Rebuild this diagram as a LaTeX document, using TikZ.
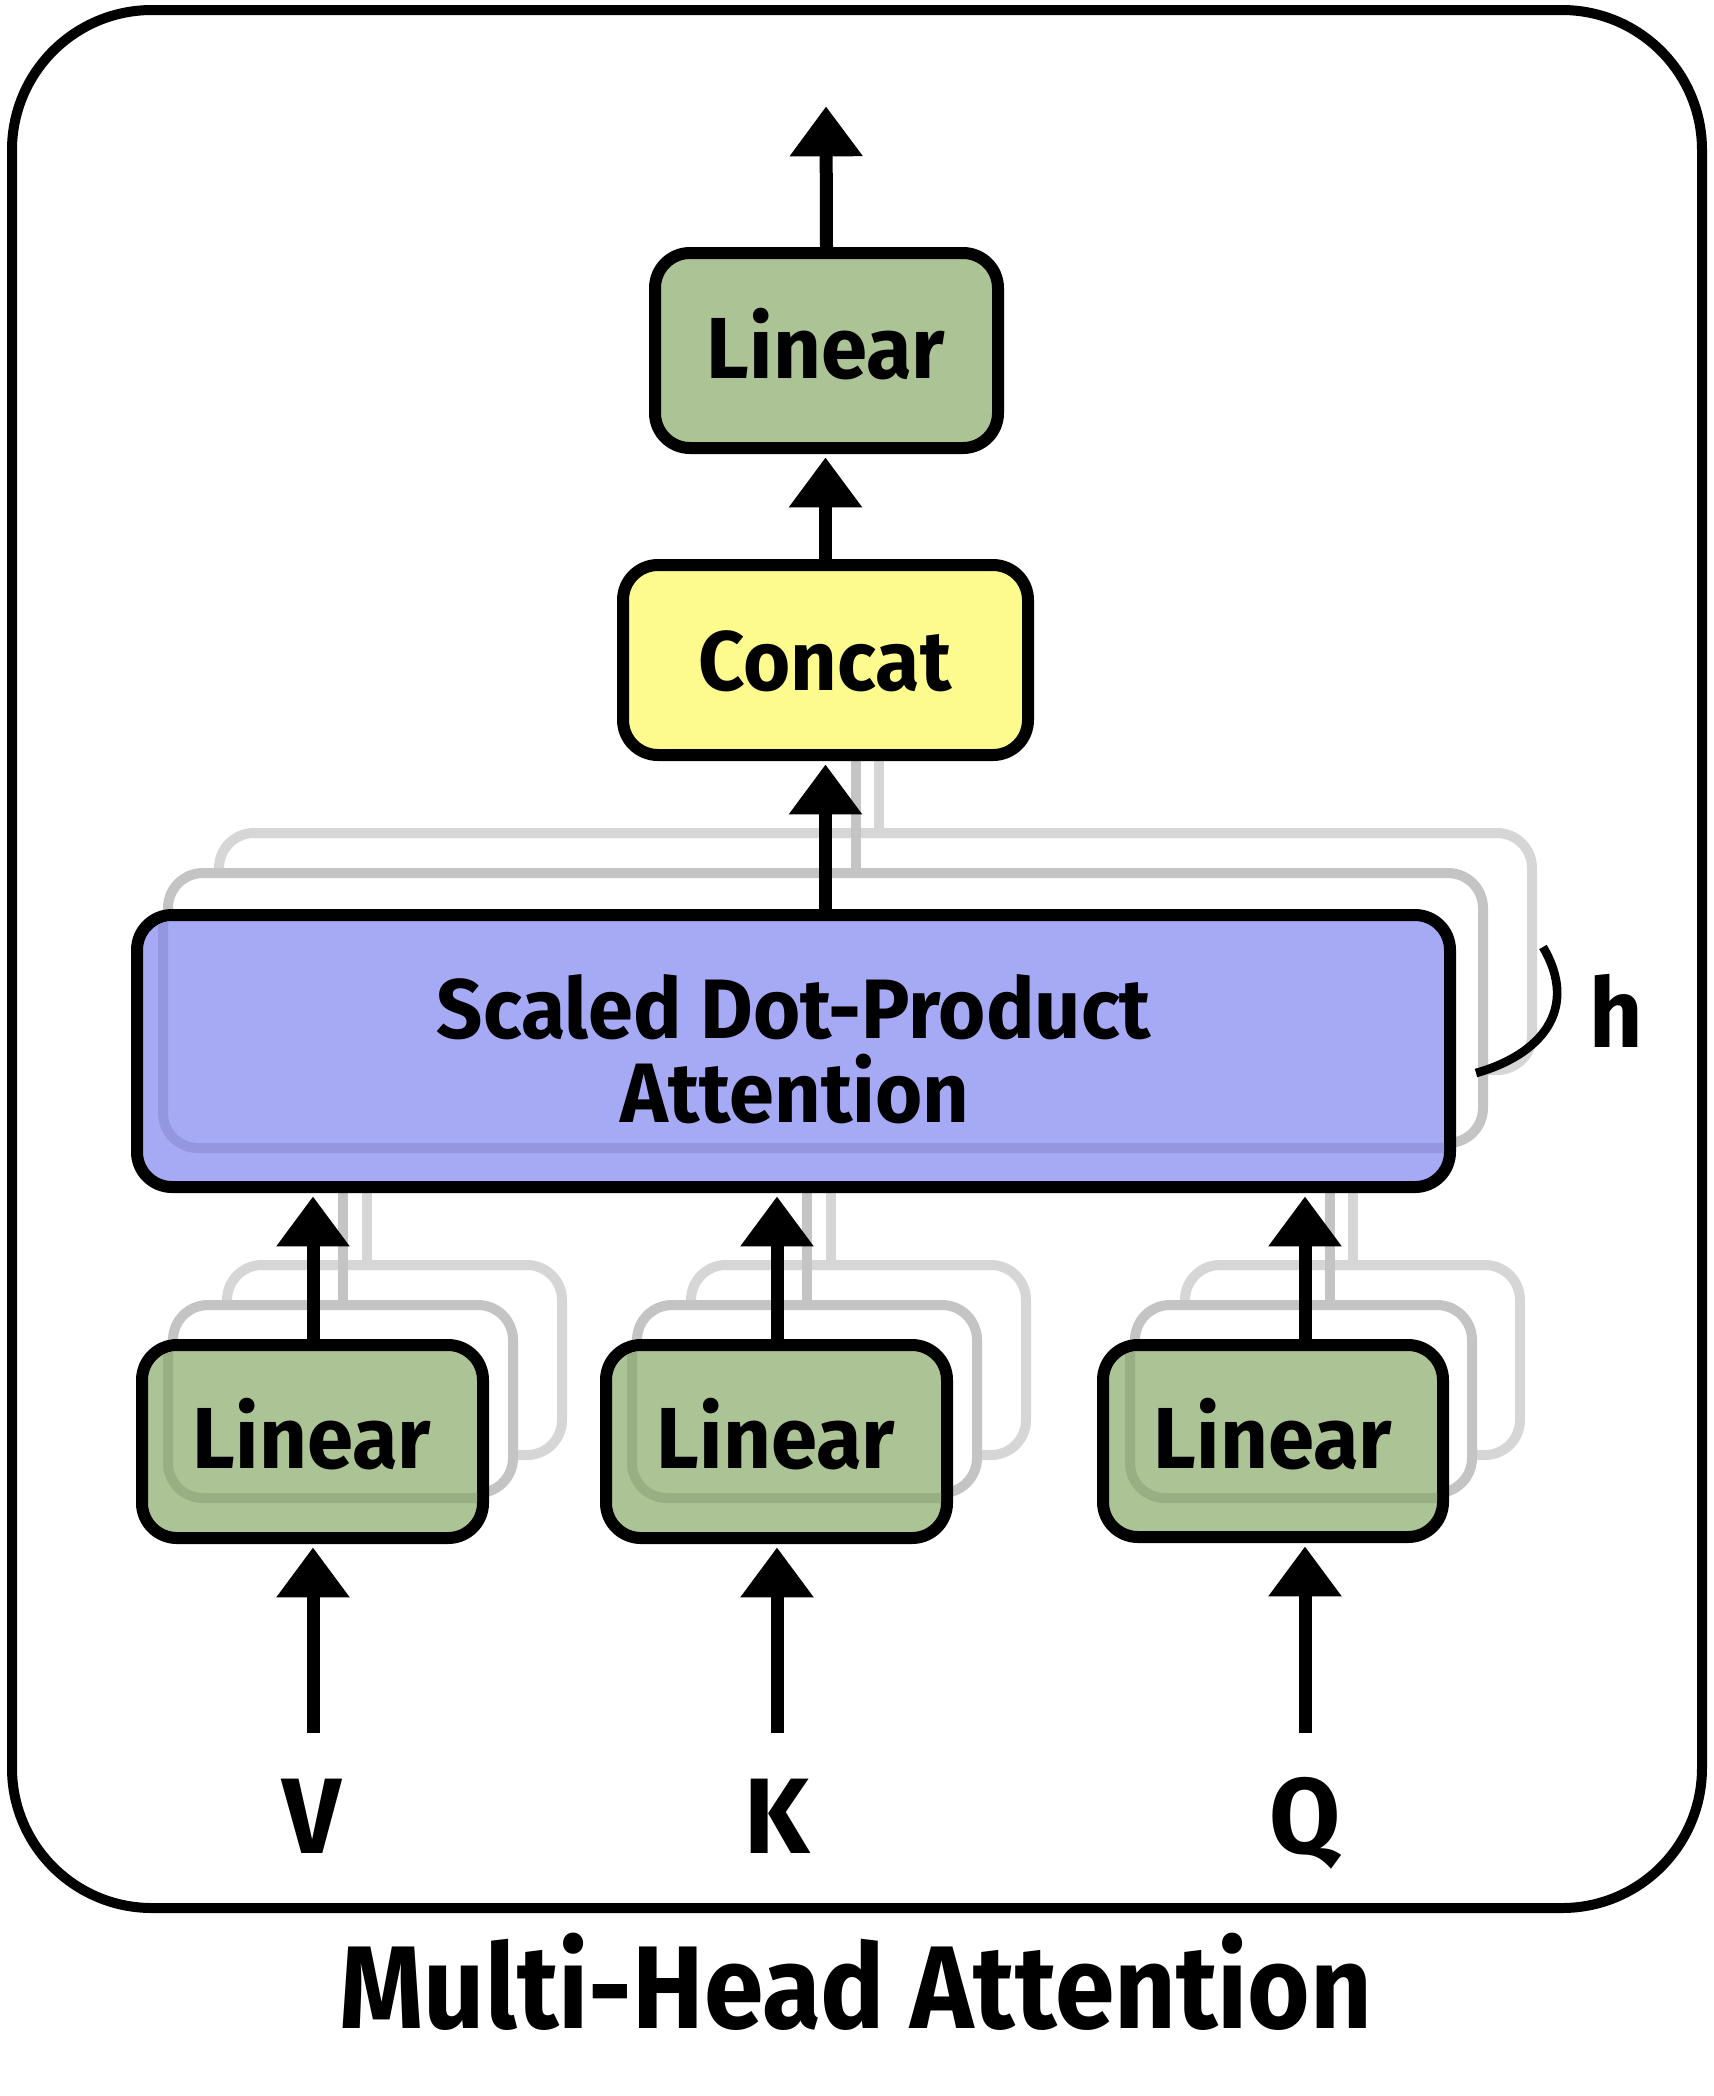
\documentclass[tikz,border=0pt]{standalone}
\usepackage{fontspec}
\setmainfont{Fira Sans}[FakeStretch=0.96]
\usetikzlibrary{arrows.meta,fit,calc}
\pgfdeclarelayer{gbox}
\pgfdeclarelayer{gline}
\pgfsetlayers{gbox,gline,main}

\definecolor{lingreen}{HTML}{ACC495}
\definecolor{lingreendark}{HTML}{97AF82}
\definecolor{concatyellow}{HTML}{FDFB8E}
\definecolor{sdpapurple}{HTML}{A6AAF5}
\definecolor{sdpadark}{HTML}{9497E0}
\definecolor{ghostA}{HTML}{C4C4C4}
\definecolor{ghostB}{HTML}{D6D6D6}

\begin{document}
\begin{tikzpicture}[x=0.3pt,y=-0.3pt,
  boxshape/.style={draw=black, line width=3.6pt, rounded corners=10.5pt, inner sep=0pt},
  ghostbox/.style={draw=#1, line width=3pt, rounded corners=10.5pt, fill=white, inner sep=0pt},
  conn/.style={line width=3.9pt, shorten >=1pt, -{Triangle[width=21pt,length=15pt]}},
  ghostline/.style={draw=#1, line width=3pt},
  innerline/.style={draw=#1, line width=3pt, rounded corners=10.5pt},
  txt/.style={font=\bfseries\fontsize{#1}{#1}\selectfont, anchor=base, inner sep=0pt},
]
\useasboundingbox (0,0) rectangle (1714,2096);

% outer frame
\node[fit={(12,10) (1702,1908)}, draw=black, line width=3pt, rounded corners=42pt, inner sep=0pt] (frame) {};

% ---------- ghost boxes (back layer) ----------
\begin{pgfonlayer}{gbox}
\node[fit={(219,833) (1532,1070)}, ghostbox=ghostB] (sg2) {};
\node[fit={(168,873) (1483,1143)}, ghostbox=ghostA] (sg1) {};
\node[fit={(227,1265) (562,1455)}, ghostbox=ghostB] (vg2) {};
\node[fit={(173,1305) (513,1493)}, ghostbox=ghostA] (vg1) {};
\node[fit={(691,1265) (1026,1455)}, ghostbox=ghostB] (kg2) {};
\node[fit={(637,1305) (977,1493)}, ghostbox=ghostA] (kg1) {};
\node[fit={(1185,1265) (1520,1455)}, ghostbox=ghostB] (qg2) {};
\node[fit={(1135,1305) (1472,1493)}, ghostbox=ghostA] (qg1) {};
\end{pgfonlayer}

% ---------- main boxes ----------
\node[fit={(137,915) (1450,1187)}, boxshape, fill=sdpapurple] (sdpa) {};
\node[fit={(142,1345) (483,1538)}, boxshape, fill=lingreen] (v) {};
\node[fit={(606,1345) (947,1538)}, boxshape, fill=lingreen] (k) {};
\node[fit={(1103,1345) (1443,1537)}, boxshape, fill=lingreen] (q) {};
\node[fit={(623,565) (1028,755)}, boxshape, fill=concatyellow] (concat) {};
\node[fit={(655,253) (998,448)}, boxshape, fill=lingreen] (tl) {};

% ghost outlines seen through the boxes
\begin{scope}
  \clip[rounded corners=9pt] (143,921) rectangle (1444,1181);
  \draw[innerline=sdpadark] (sg1.north west) rectangle (sg1.south east);
\end{scope}
\begin{scope}
  \clip[rounded corners=9pt] (148,1351) rectangle (477,1532);
  \draw[innerline=lingreendark] (vg1.north west) rectangle (vg1.south east);
\end{scope}
\begin{scope}
  \clip[rounded corners=9pt] (612,1351) rectangle (941,1532);
  \draw[innerline=lingreendark] (kg1.north west) rectangle (kg1.south east);
\end{scope}
\begin{scope}
  \clip[rounded corners=9pt] (1109,1351) rectangle (1437,1531);
  \draw[innerline=lingreendark] (qg1.north west) rectangle (qg1.south east);
\end{scope}

% ---------- ghost connectors (between ghost boxes and main boxes) ----------
\coordinate (cgx1) at (856,0);
\coordinate (cgx2) at (879,0);
\coordinate (vgx1) at (343,0);
\coordinate (vgx2) at (367,0);
\coordinate (kgx1) at (807,0);
\coordinate (kgx2) at (831,0);
\coordinate (qgx1) at (1330,0);
\coordinate (qgx2) at (1353,0);
\begin{pgfonlayer}{gline}
\draw[ghostline=ghostA] (cgx1 |- sg1.north) -- (cgx1 |- concat.south);
\draw[ghostline=ghostB] (cgx2 |- sg2.north) -- (cgx2 |- concat.south);
\draw[ghostline=ghostA] (vgx1 |- vg1.north) -- (vgx1 |- sdpa.south);
\draw[ghostline=ghostB] (vgx2 |- vg2.north) -- (vgx2 |- sdpa.south);
\draw[ghostline=ghostA] (kgx1 |- kg1.north) -- (kgx1 |- sdpa.south);
\draw[ghostline=ghostB] (kgx2 |- kg2.north) -- (kgx2 |- sdpa.south);
\draw[ghostline=ghostA] (qgx1 |- qg1.north) -- (qgx1 |- sdpa.south);
\draw[ghostline=ghostB] (qgx2 |- qg2.north) -- (qgx2 |- sdpa.south);
\end{pgfonlayer}

% ---------- connectors ----------
\coordinate (outtip) at (826,103);
\coordinate (vin) at (313,1733);
\coordinate (kin) at (777,1733);
\coordinate (qin) at (1305,1733);

\draw[conn] (tl.north) -- (outtip);
\draw[conn] (concat.north) -- (concat.north |- tl.south);
\draw[conn] (sdpa.north -| concat.north) -- (concat.south);
\draw[conn] (v.north -| vin) -- (vin |- sdpa.south);
\draw[conn] (k.north -| kin) -- (kin |- sdpa.south);
\draw[conn] (q.north -| qin) -- (qin |- sdpa.south);
\draw[conn] (vin) -- (vin |- v.south);
\draw[conn] (kin) -- (kin |- k.south);
\draw[conn] (qin) -- (qin |- q.south);

% ---------- texts ----------
\node[txt=26] (tltext) at (826,378) {Linear};
\node[txt=25.3] (concattext) at (825,690) {Concat};
\node[txt=25.3] (sdpatext1) at (794,1038) {Scaled Dot-Product};
\node[txt=25.3] (sdpatext2) at (795,1122) {Attention};
\node[txt=26] (vtext) at (312,1468) {Linear};
\node[txt=26] (ktext) at (776,1468) {Linear};
\node[txt=26] (qtext) at (1273,1468) {Linear};
\node[txt=32.2] (vlab) at (312,1853) {V};
\node[txt=32.2] (klab) at (777,1853) {K};
\node[txt=32.2] (qlab) at (1305,1853) {Q};
\node[txt=35.3] (title) at (856,2028) {\scalebox{0.95}[1]{Multi-Head Attention}};
\node[txt=29] (hlab) at (1616,1047) {h};

% bracket marking the h heads
\coordinate (brA) at (1476,1073);
\coordinate (brB) at (1543,947);
\draw[line width=2.6pt] (brA) .. controls (1540,1055) and (1580,1010) .. (brB);
\end{tikzpicture}
\end{document}
